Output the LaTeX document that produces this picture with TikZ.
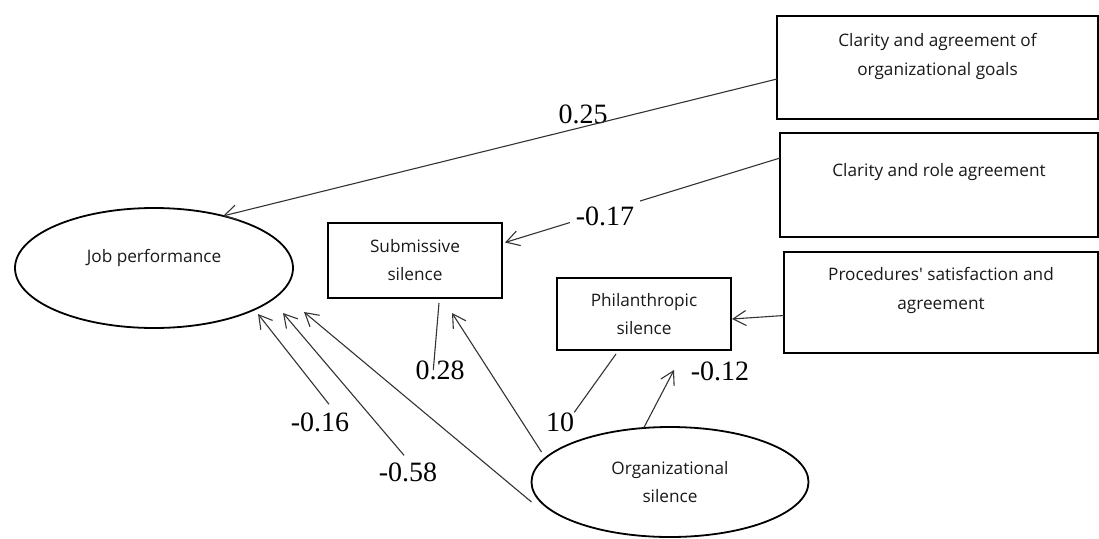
\documentclass[tikz,border=0pt]{standalone}
\usepackage{fontspec}
\setmainfont{Liberation Serif}
\newfontfamily\boxfont{Open Sans}
\usetikzlibrary{shapes.geometric,arrows.meta,calc}
\begin{document}
\begin{tikzpicture}[x=1pt,y=-1pt,
  box/.style={draw=black, line width=1.8pt, rectangle, inner sep=0pt, outer sep=0pt,
    font=\boxfont\fontsize{17.2}{28}\selectfont, align=center, text=black!90},
  oval/.style={draw=black, line width=1.8pt, ellipse, inner sep=0pt, outer sep=0pt,
    font=\boxfont\fontsize{17.2}{28}\selectfont, align=center, text=black!90},
  txt/.style={font=\boxfont\fontsize{17.2}{29}\selectfont, align=center, inner sep=0pt, text=black!90},
  num/.style={inner sep=0pt, font=\fontsize{28}{30}\selectfont},
  arr/.style={draw=black!80, line width=1.1pt, -{Straight Barb[length=13pt,width=15pt]}},
  link/.style={draw=black!80, line width=1.1pt}]
\useasboundingbox (0,0) rectangle (1099,538);

% nodes
\node[oval, minimum width=278pt, minimum height=120pt,
  label={[txt,yshift=10pt]center:Job performance}] (job) at (154,268) {};
\node[box, minimum width=174pt, minimum height=75pt] (sub) at (415,260.5) {Submissive\\silence};
\node[box, minimum width=174pt, minimum height=72pt] (phil) at (644,314) {Philanthropic\\silence};
\node[oval, minimum width=277pt, minimum height=110pt] (org) at (670,482) {Organizational\\silence};
\node[box, minimum width=321pt, minimum height=103pt,
  label={[txt,yshift=11.5pt]center:{Clarity and agreement of\\organizational goals}}] (goals) at (937.5,67.5) {};
\node[box, minimum width=318pt, minimum height=104pt,
  label={[txt,yshift=13pt]center:Clarity and role agreement}] (role) at (939,185) {};
\node[box, minimum width=314pt, minimum height=101pt,
  label={[txt,yshift=12.5pt]center:{Procedures' satisfaction and\\agreement}}] (proc) at (941,302.5) {};

% coefficient labels
\node[num] (l025) at (583,114) {0.25};
\node[num] (l012) at (720,371) {-0.12};
\node[num] (l10) at (560,422) {10};
\node[num] (l028) at (440,370) {0.28};
\node[num] (l016) at (320,422) {-0.16};
\node[num] (l058) at (408,472) {-0.58};

% free arrow ends
\coordinate (tphil) at (674,370);
\coordinate (tsub) at (452,313);
\coordinate (tjob1) at (258,314);
\coordinate (tjob2) at (283,313);
\coordinate (tjob3) at (304,312);

% connectors
\draw[arr] ($(goals.west)+(0,11.5)$) -- (job.37);
\draw[arr] ($(role.west)+(0,-27)$) -- ($(sub.east)+(3,-18)$);
\node[num, fill=white, inner sep=6pt] (l017) at (605,216) {-0.17};
\draw[arr] ($(proc.west)+(0,13)$) -- ($(phil.east)+(1,5)$);
\draw[arr] (org.116) -- (tphil);
\draw[link] ($(phil.south)+(-28,4)$) -- (l10.north east);
\draw[link] ($(sub.south)+(24,5)$) -- ($(l028.west)+(18,0)$);
\draw[arr] ($(org.west)+(10,-30)$) -- (tsub);
\draw[arr] ($(org.west)+(0,20)$) -- (tjob3);
\draw[arr] ($(l058.north)+(-4,-7)$) -- (tjob2);
\draw[arr] ($(l016.north)+(9,-8)$) -- (tjob1);
\end{tikzpicture}
\end{document}
